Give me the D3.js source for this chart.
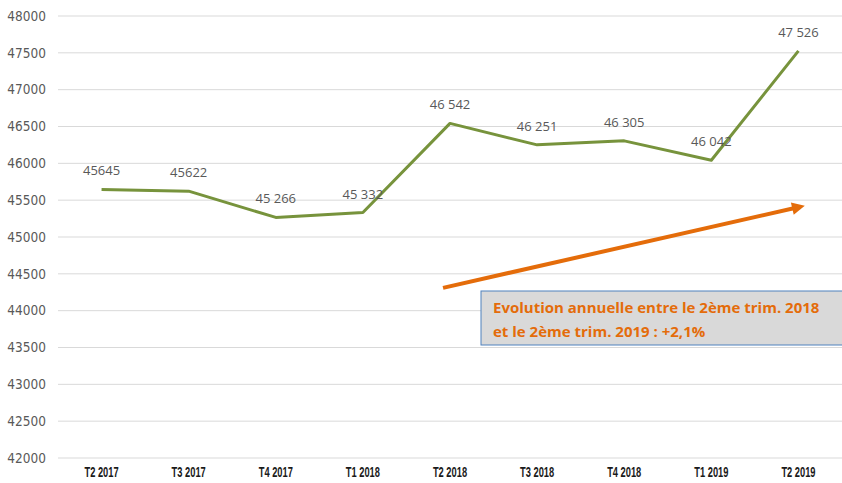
<!DOCTYPE html>
<html>
<head>
<meta charset="utf-8">
<script src="https://cdn.jsdelivr.net/npm/d3@7"></script>
<style>
  body { margin: 0; background: #fff; }
  svg { display: block; }
</style>
</head>
<body>
<svg width="842" height="483"></svg>
<script>
var quarters = ["T2 2017", "T3 2017", "T4 2017", "T1 2018", "T2 2018", "T3 2018", "T4 2018", "T1 2019", "T2 2019"];
var values = [45645, 45622, 45266, 45332, 46542, 46251, 46305, 46042, 47526];
var valueLabels = ["45645", "45622", "45 266", "45 332", "46 542", "46 251", "46 305", "46 042", "47 526"];
var yTicks = [42000, 42500, 43000, 43500, 44000, 44500, 45000, 45500, 46000, 46500, 47000, 47500, 48000];
// trend arrow: [category index position, value]
var trendStart = [3.92, 44310];
var trendEnd = [8.05, 45420];
var noteLines = ["Evolution annuelle entre le 2ème trim. 2018", "et le 2ème trim. 2019 : +2,1%"];

var svg = d3.select("svg"),
    margin = {top: 16, right: 0, bottom: 25, left: 58},
    width = +svg.attr("width") - margin.left - margin.right,
    height = +svg.attr("height") - margin.top - margin.bottom;

var g = svg.append("g")
    .attr("transform", "translate(" + margin.left + "," + margin.top + ")");

var xScale = d3.scaleBand().domain(quarters).range([0, width]);
var xPos = d3.scaleLinear().domain([0, quarters.length - 1])
    .range([xScale.bandwidth() / 2, width - xScale.bandwidth() / 2]);
var yScale = d3.scaleLinear().domain([42000, 48000]).range([height, 0]);

// gridlines
g.selectAll(".grid")
    .data(yTicks)
    .enter().append("line")
    .attr("x1", 0).attr("x2", width)
    .attr("y1", function(d) { return yScale(d); })
    .attr("y2", function(d) { return yScale(d); })
    .attr("stroke", "#d9d9d9")
    .attr("stroke-width", 1);

// y axis
var yAxis = g.append("g")
    .call(d3.axisLeft(yScale).tickValues(yTicks).tickSize(0).tickPadding(12).tickFormat(d3.format("d")));
yAxis.select(".domain").remove();
yAxis.selectAll("text")
    .attr("fill", "#595959")
    .style("font-family", "'DejaVu Sans Condensed', sans-serif")
    .style("font-size", "13.5px");

// x axis
var xAxis = g.append("g")
    .attr("transform", "translate(0," + height + ")")
    .call(d3.axisBottom(xScale).tickSize(0).tickPadding(8));
xAxis.select(".domain").remove();
xAxis.selectAll("text")
    .attr("fill", "#1a1a1a")
    .style("font-family", "'Liberation Sans', sans-serif")
    .style("font-weight", "bold")
    .style("font-size", "15px")
    .each(function() {
      // Calibri-like narrow look
      var w = this.getComputedTextLength();
      d3.select(this).attr("textLength", w * 0.62).attr("lengthAdjust", "spacingAndGlyphs");
    });

// line
var line = d3.line()
    .x(function(d, i) { return xPos(i); })
    .y(function(d) { return yScale(d); });

g.append("path")
    .datum(values)
    .attr("fill", "none")
    .attr("stroke", "#77933c")
    .attr("stroke-width", 3)
    .attr("stroke-linejoin", "round")
    .attr("d", line);

// value labels
g.selectAll(".vlabel")
    .data(values)
    .enter().append("text")
    .attr("x", function(d, i) { return xPos(i); })
    .attr("y", function(d) { return yScale(d) - 14; })
    .attr("text-anchor", "middle")
    .attr("fill", "#595959")
    .style("font-family", "'Open Sans', 'Noto Sans', sans-serif")
    .style("font-size", "13px")
    .text(function(d, i) { return valueLabels[i]; });

// arrow
svg.append("defs").append("marker")
    .attr("id", "head")
    .attr("viewBox", "0 0 10 10")
    .attr("refX", 2).attr("refY", 5)
    .attr("markerWidth", 4).attr("markerHeight", 3.2)
    .attr("orient", "auto")
    .append("path")
    .attr("d", "M0,0 L10,5 L0,10 z")
    .attr("fill", "#e46c0a");

g.append("line")
    .attr("x1", xPos(trendStart[0])).attr("y1", yScale(trendStart[1]))
    .attr("x2", xPos(trendEnd[0]) - 8).attr("y2", yScale(trendEnd[1]) + 2)
    .attr("stroke", "#e46c0a")
    .attr("stroke-width", 4)
    .attr("marker-end", "url(#head)");

// annotation box
var note = svg.append("g").attr("transform", "translate(481,291)");
note.append("rect")
    .attr("width", 370).attr("height", 54)
    .attr("fill", "#d9d9d9")
    .attr("stroke", "#4f81bd")
    .attr("stroke-width", 1);
note.selectAll("text")
    .data(noteLines)
    .enter().append("text")
    .attr("x", 12)
    .attr("y", function(d, i) { return 22 + i * 24; })
    .attr("fill", "#e46c0a")
    .style("font-family", "'Open Sans', sans-serif")
    .style("font-weight", "bold")
    .style("font-size", "15px")
    .text(function(d) { return d; });
</script>
</body>
</html>
